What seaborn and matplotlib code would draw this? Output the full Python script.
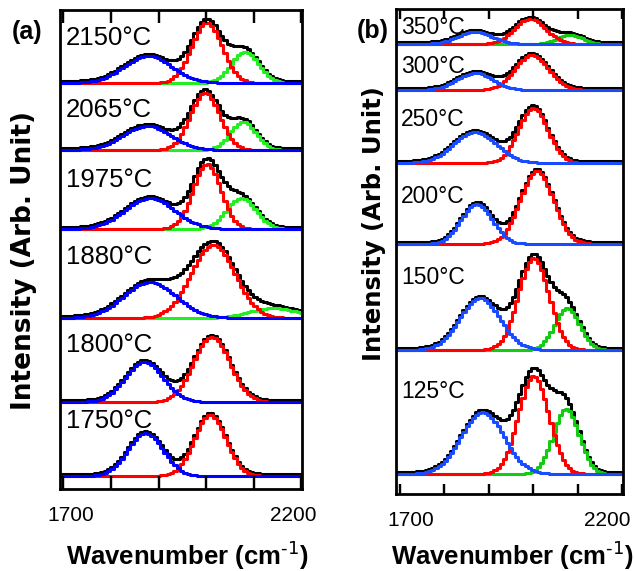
import numpy as np
import pandas as pd
import matplotlib
matplotlib.use("Agg")
import matplotlib.pyplot as plt
import matplotlib.transforms as mtransforms
from matplotlib.ticker import FixedLocator
import seaborn as sns

# panel (a): annealing temperature, top to bottom
temps_a = ["2150°C", "2065°C", "1975°C", "1880°C", "1800°C", "1750°C"]
base_a = [406, 339, 260, 171, 87, 13]
# fitted components as (centre cm-1, height, sigma cm-1)
blue_a = [(1878, 27, 50), (1876, 24, 50), (1882, 31, 52), (1882, 36, 55), (1870, 40, 40), (1873, 43, 37)]
red_a = [(2002, 60, 32), (1998, 57, 31), (2002, 65, 29), (2015, 73, 46), (2012, 65, 38), (2009, 61, 33)]
green_a = [(2082, 31, 29), (2078, 28, 27), (2074, 31, 31), (2142, 10, 50), None, None]

# panel (b): measuring temperature, top to bottom
temps_b = ["350°C", "300°C", "250°C", "200°C", "150°C", "125°C"]
base_b = [450, 404, 331, 250, 144, 20]
blue_b = [(1869, 12, 38), (1869, 17, 40), (1869, 31, 48), (1873, 40, 35), (1880, 52, 45), (1886, 62, 48)]
red_b = [(1993, 25, 35), (1997, 35, 37), (2000, 55, 33), (2008, 73, 37), (2001, 92, 34), (2001, 98, 34)]
green_b = [(2083, 9, 28), None, None, None, (2076, 42, 28), (2074, 65, 29)]

# labelled and unlabelled ticks along the wavenumber axis
major_ticks = [1700, 2200]
minor_ticks = [1800, 1900, 2000, 2100]

# where the temperature labels sit (data units)
label_y_a = [451, 379, 309, 232, 144, 68]
label_y_b = [466, 427, 374, 297, 216, 102]

sns.set_style("ticks", {"axes.axisbelow": False})
plt.rcParams["font.family"] = ["Liberation Sans", "DejaVu Sans"]
plt.rcParams["text.color"] = "black"
plt.rcParams["xtick.color"] = "black"
plt.rcParams["mathtext.fontset"] = "custom"
plt.rcParams["mathtext.bf"] = "Liberation Sans:bold"
plt.rcParams["mathtext.default"] = "bf"


def gauss(x, peak):
    c, h, s = peak
    return h * np.exp(-0.5 * ((x - c) / s) ** 2)


def draw_panel(ax, temps, base, blue, red, green, palette, label_y, label_x, fs):
    x = np.arange(1690, 2206, 7.0)
    for i, t in enumerate(temps):
        comps = {"blue": blue[i], "red": red[i], "green": green[i]}
        frames = []
        total = np.zeros_like(x)
        for name, pk in comps.items():
            if pk is None:
                continue
            y = gauss(x, pk)
            total += y
            frames.append(pd.DataFrame({"x": x, "y": base[i] + y, "comp": name}))
        frames.insert(0, pd.DataFrame({"x": x, "y": base[i] + 2 + total, "comp": "total"}))
        df = pd.concat(frames, ignore_index=True)
        order = [c for c in ["total", "green", "red", "blue"] if c in set(df["comp"])]
        # draw one trace at a time so blue ends up on top
        for c in order:
            sns.lineplot(data=df[df["comp"] == c], x="x", y="y", color=palette[c],
                         estimator=None, drawstyle="steps-mid", lw=2.2, ax=ax)
        ax.text(label_x, label_y[i], t, ha="left", va="center", fontsize=fs, color="black")


fig = plt.figure(figsize=(6.34, 5.71), dpi=100)
ax_a = fig.add_axes([0.0946, 0.1436, 0.3817, 0.8389])
ax_b = fig.add_axes([0.6246, 0.1349, 0.358, 0.8494])

pal_a = {"total": "black", "blue": "#0000ff", "red": "#ff0000", "green": "#22ee22"}
pal_b = {"total": "black", "blue": "#1a4cff", "red": "#ff0000", "green": "#11cc11"}

draw_panel(ax_a, temps_a, base_a, blue_a, red_a, green_a, pal_a, label_y_a, 1705, 18.5)
draw_panel(ax_b, temps_b, base_b, blue_b, red_b, green_b, pal_b, label_y_b, 1702, 16.5)

ax_a.set_xlim(1692.6, 2202)
ax_a.set_ylim(0, 479)
ax_b.set_xlim(1691, 2202)
ax_b.set_ylim(0, 485)

# per panel: tick length (pt), tick height as axes fraction, label nudges (px)
tick_len = {ax_a: 9.4, ax_b: 7.2}
tick_frac = {ax_a: 0.027, ax_b: 0.021}
shifts = {ax_a: (7, -8), ax_b: (11, -15)}
for ax in (ax_a, ax_b):
    ax.xaxis.set_major_locator(FixedLocator(major_ticks))
    ax.xaxis.set_minor_locator(FixedLocator(minor_ticks))
    ax.set_xticklabels([str(v) for v in major_ticks])
    ax.set_yticks([])
    ax.set_xlabel("")
    ax.set_ylabel("")
    ax.tick_params(axis="x", which="both", direction="in", length=tick_len[ax], width=1.6,
                   bottom=True, top=True, color="black")
    ax.tick_params(axis="x", which="major", pad=12, labelsize=15, labelcolor="black")
    for tk in ax.xaxis.get_major_ticks() + ax.xaxis.get_minor_ticks():
        tk.tick1line.set_clip_on(False)
        tk.tick2line.set_clip_on(False)
    # inward tick marks top and bottom, kept above the traces
    xt = ax.get_xaxis_transform()
    all_ticks = major_ticks + minor_ticks
    ax.vlines(all_ticks, 0, tick_frac[ax], transform=xt, color="black", lw=1.6,
              clip_on=False, zorder=10)
    ax.vlines(all_ticks, 1 - tick_frac[ax], 1, transform=xt, color="black", lw=1.6,
              clip_on=False, zorder=10)
    for sp in ax.spines.values():
        sp.set_linewidth(2)
        sp.set_color("black")
        sp.set_zorder(11)
    labels = ax.get_xticklabels()
    for lab, dx in zip(labels, shifts[ax]):
        off = mtransforms.ScaledTranslation(dx / 100, 0, fig.dpi_scale_trans)
        lab.set_transform(lab.get_transform() + off)

fig.text(12 / 634, 1 - 32 / 571, "(a)", ha="left", va="center", fontsize=18, fontweight="bold")
fig.text(357 / 634, 1 - 31 / 571, "(b)", ha="left", va="center", fontsize=18, fontweight="bold")

fig.text(24 / 634, 1 - 261 / 571, "Intensity (Arb. Unit)", rotation=90, ha="center", va="center",
         fontsize=19, fontweight="bold", family="DejaVu Sans")
fig.text(374 / 634, 1 - 224 / 571, "Intensity (Arb. Unit)", rotation=90, ha="center", va="center",
         fontsize=17.5, fontweight="bold", family="DejaVu Sans")

fig.text(187 / 634, 1 - 565 / 571, r"Wavenumber (cm$^{\text{-1}}$)", ha="center", va="baseline",
         fontsize=18.5, fontweight="bold")
fig.text(512 / 634, 1 - 565 / 571, r"Wavenumber (cm$^{\text{-1}}$)", ha="center", va="baseline",
         fontsize=18.5, fontweight="bold")

fig.savefig("out.png", dpi=100)
